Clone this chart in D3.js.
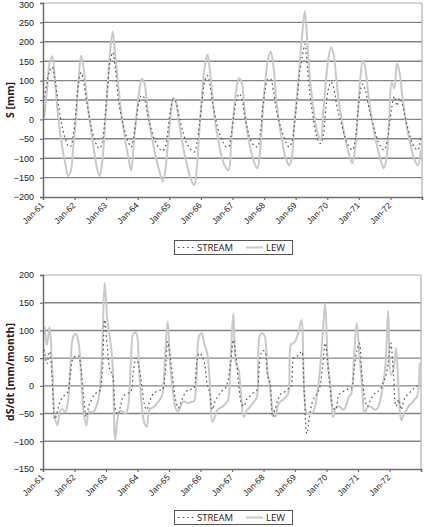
<!DOCTYPE html>
<html><head><meta charset="utf-8">
<script src="https://cdn.jsdelivr.net/npm/d3@7"></script>
<style>
html,body{margin:0;padding:0;background:#fff;}
svg{display:block;font-family:"Open Sans","Noto Sans",sans-serif;}
</style></head>
<body><svg id="c" width="428" height="527"></svg>
<script>
// Month labels (Jan-61 .. Dec-72), one per month
const years = ["61","62","63","64","65","66","67","68","69","70","71","72"];
const xTickLabels = years.map(y => "Jan-" + y);
const seriesNames = ["STREAM", "LEW"];

// Storage S [mm], monthly
const streamS = [
  57, 95, 125, 135, 105, 55, 10, -25, -50, -68, -70, -40,
  20, 95, 121, 95, 50, 10, -25, -50, -68, -75, -60, 0,
  80, 150, 173, 130, 60, 15, -15, -40, -60, -71, -45, 5,
  45, 62, 55, 20, -10, -35, -55, -68, -78, -81, -70, -25,
  25, 52, 45, 15, -15, -40, -60, -72, -80, -84, -60, -10,
  50, 100, 113, 85, 40, 5, -25, -45, -60, -70, -71, -40,
  10, 50, 66, 55, 15, -20, -45, -62, -68, -71, -40, 30,
  80, 104, 104, 75, 30, 0, -25, -45, -62, -71, -60, -15,
  50, 120, 160, 194, 130, 60, 10, -30, -55, -62, -40, 30,
  80, 96, 80, 40, 10, -15, -40, -60, -72, -79, -60, 10,
  70, 91, 75, 40, 10, -15, -40, -60, -72, -79, -65, -20,
  30, 60, 35, 55, 40, 10, -20, -45, -65, -75, -79, -41
];
const lewS = [
  5, 75, 145, 163, 105, 25, -35, -80, -115, -146, -135, -70,
  0, 100, 164, 130, 65, 10, -40, -85, -125, -146, -110, -20,
  80, 175, 226, 160, 95, 30, -20, -65, -100, -132, -60, 10,
  70, 105, 95, 40, -10, -50, -85, -115, -140, -160, -130, -60,
  10, 56, 45, 0, -40, -80, -110, -140, -160, -169, -120, -20,
  70, 140, 167, 120, 50, -10, -50, -85, -110, -125, -131, -60,
  20, 80, 106, 95, 30, -25, -65, -95, -115, -126, -80, 20,
  100, 155, 175, 140, 60, 0, -40, -80, -105, -118, -100, -10,
  60, 140, 220, 278, 190, 100, 40, -10, -40, -52, 20, 100,
  160, 185, 165, 100, 40, 0, -40, -70, -95, -113, -80, 0,
  100, 153, 130, 70, 20, -20, -55, -85, -110, -126, -100, 0,
  96, 80, 144, 120, 60, 10, -30, -60, -90, -110, -118, -80
];

// dS/dt [mm/month], monthly
const streamD = [
  65, 40, 62, 10, -60, -45, -28, -20, -16, -10, 25, 50,
  53, 54, 30, -20, -56, -35, -25, -16, -12, -10, 20, 119,
  71, 29, 20, -40, -52, -37, -19, -15, -13, -10, 30, 50,
  35, 5, -31, -43, -31, -18, -12, -10, -8, -7, 20, 80,
  50, 11, -25, -40, -30, -19, -10, -8, -6, -4, 40, 59,
  55, 41, 5, -13, -43, -28, -20, -13, -8, -4, 10, 41,
  83, 53, 5, -30, -37, -25, -20, -16, -10, -7, 41, 63,
  62, 20, 5, -56, -40, -25, -15, -12, -10, -5, -1, 50,
  53, 56, 62, -10, -86, -56, -31, -20, -13, -1, 35, 77,
  40, -10, -40, -43, -19, -12, -10, -7, -5, -4, 30, 62,
  77, 20, -19, -37, -28, -20, -13, -10, -7, 5, 17, 41,
  77, 20, -37, -25, -43, -25, -18, -13, -8, -4, 0, 5
];
const lewD = [
  107, 74, 106, 35, -56, -71, -45, -42, -48, -30, 40, 89,
  94, 80, 20, -50, -71, -46, -48, -45, -35, -13, 60, 186,
  119, 86, 40, -98, -56, -45, -47, -50, -35, 45, 95, 95,
  40, -30, -65, -74, -43, -40, -37, -31, -25, -15, 53, 116,
  35, -10, -40, -46, -35, -28, -30, -31, -29, -28, 20, 90,
  95, 75, 60, 10, -65, -55, -43, -40, -37, -32, -25, 50,
  131, 41, 29, -20, -56, -45, -40, -34, -28, -20, 89, 95,
  89, 28, -4, -45, -56, -35, -28, -25, -20, -13, 75, 77,
  85, 100, 119, -10, -50, -49, -49, -40, -13, 29, 89, 149,
  41, 0, -56, -40, -37, -40, -43, -35, -20, -13, 53, 113,
  59, 5, -49, -40, -37, -40, -43, -40, -25, 0, 40, 136,
  20, 30, 68, -10, -62, -50, -43, -35, -31, -25, -19, 41
];

const yTicksTop = [-200, -150, -100, -50, 0, 50, 100, 150, 200, 250, 300];
const yTicksBottom = [-150, -100, -50, 0, 50, 100, 150, 200];
const yLabelTop = "S [mm]";
const yLabelBottom = "dS/dt [mm/month]";

const svg = d3.select("#c");
const GRID = "#858585", AXIS = "#6e6e6e", BORDER = "#b0b0b0";
const LEWC = "#c9c9c9", STREAMC = "#555555";

function panel(cfg) {
  const {x0, x1, y0, y1, yDomain, yTicks, sData, lData, yLabel, legendY} = cfg;
  const n = sData.length;
  const x = d3.scaleLinear().domain([0, n]).range([x0, x1]);
  const y = d3.scaleLinear().domain(yDomain).range([y1, y0]);
  const g = svg.append("g");

  // grid
  g.selectAll("line.grid").data(yTicks.filter(t => t !== yDomain[0] && t !== yDomain[1]))
    .enter().append("line")
    .attr("x1", x0).attr("x2", x1)
    .attr("y1", d => y(d)).attr("y2", d => y(d))
    .attr("stroke", GRID).attr("stroke-width", 1.4);
  // top + right border
  g.append("line").attr("x1", x0).attr("x2", x1).attr("y1", y(yDomain[1])).attr("y2", y(yDomain[1]))
    .attr("stroke", BORDER).attr("stroke-width", 1.2);
  g.append("line").attr("x1", x1).attr("x2", x1).attr("y1", y0).attr("y2", y1)
    .attr("stroke", BORDER).attr("stroke-width", 1.2);

  // series
  const line = d3.line().x((d, i) => x(i + 0.5)).y(d => y(d)).curve(d3.curveCatmullRom.alpha(0.5));
  g.append("path").datum(lData).attr("d", line).attr("fill", "none")
    .attr("stroke", LEWC).attr("stroke-width", 2);
  g.append("path").datum(sData).attr("d", line).attr("fill", "none")
    .attr("stroke", STREAMC).attr("stroke-width", 1.2).attr("stroke-dasharray", "1.6,3");

  // y axis
  const ya = d3.axisLeft(y).tickValues(yTicks).tickSize(3).tickPadding(6).tickFormat(d3.format("d"));
  const yg = g.append("g").attr("transform", `translate(${x0},0)`).call(ya);
  yg.select(".domain").attr("stroke", AXIS).attr("stroke-width", 1.5);
  yg.selectAll(".tick line").attr("stroke", AXIS).attr("stroke-width", 1.2);
  yg.selectAll(".tick text").attr("fill", "#222").style("font-size", "9px")
    .attr("dy", d => (y(d) < 6 ? "0.55em" : "0.32em"));

  // x axis
  const xt = d3.range(0, n + 1, 12);
  const xa = d3.axisBottom(x).tickValues(xt).tickSize(3).tickFormat(d => d < n ? xTickLabels[d / 12] : "");
  const xg = g.append("g").attr("transform", `translate(0,${y1})`).call(xa);
  xg.select(".domain").attr("stroke", AXIS).attr("stroke-width", 1.5);
  xg.selectAll(".tick line").attr("stroke", AXIS).attr("stroke-width", 1.2);
  xg.selectAll(".tick text").attr("fill", "#222").style("font-size", "8.5px")
    .attr("text-anchor", "end").attr("dy", 0).attr("y", 0)
    .attr("transform", "translate(1,9) rotate(-45)");

  // y label
  g.append("text").attr("transform", `translate(14,${(y0 + y1) / 2}) rotate(-90)`)
    .attr("text-anchor", "middle").style("font-size", "10.5px").style("font-weight", "bold")
    .attr("fill", "#222").text(yLabel);

  // legend
  const lg = g.append("g").attr("transform", `translate(174,${legendY})`);
  lg.append("rect").attr("x", 0.5).attr("y", 0.5).attr("width", 118).attr("height", 14)
    .attr("fill", "#fff").attr("stroke", "#555").attr("stroke-width", 1);
  lg.append("line").attr("x1", 4).attr("x2", 20).attr("y1", 7.5).attr("y2", 7.5)
    .attr("stroke", STREAMC).attr("stroke-width", 1.2).attr("stroke-dasharray", "1.6,3");
  lg.append("text").attr("x", 23).attr("y", 11).style("font-size", "9.5px").attr("fill", "#222").text(seriesNames[0]);
  lg.append("line").attr("x1", 72).attr("x2", 89).attr("y1", 7.5).attr("y2", 7.5)
    .attr("stroke", LEWC).attr("stroke-width", 2);
  lg.append("text").attr("x", 92).attr("y", 11).style("font-size", "9.5px").attr("fill", "#222").text(seriesNames[1]);
}

panel({x0: 43, x1: 422, y0: 3, y1: 197, yDomain: [-200, 300], yTicks: yTicksTop,
  sData: streamS, lData: lewS, yLabel: yLabelTop, legendY: 240});
panel({x0: 43, x1: 421, y0: 275, y1: 469, yDomain: [-150, 200], yTicks: yTicksBottom,
  sData: streamD, lData: lewD, yLabel: yLabelBottom, legendY: 510});
</script>
</body></html>
